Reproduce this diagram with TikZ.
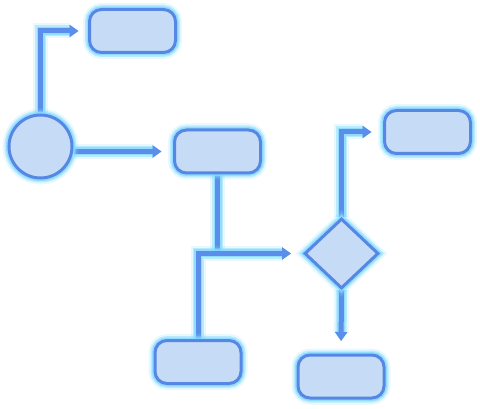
\documentclass[tikz,border=0pt]{standalone}
\usetikzlibrary{shapes.geometric,arrows.meta,backgrounds}
\definecolor{boxfill}{HTML}{C6DBF6}
\definecolor{boxline}{HTML}{5787E4}
\definecolor{flowline}{HTML}{5B8EEA}
\definecolor{glow}{HTML}{86DAFF}

\begin{document}
\begin{tikzpicture}[x=1pt,y=-1pt,
  halo/.style={preaction={draw=glow,line width=#1+10pt,opacity=.2},
               preaction={draw=glow,line width=#1+6pt,opacity=.45},
               preaction={draw=glow,line width=#1+3pt,opacity=.8}},
  box/.style={rectangle,rounded corners=12pt,minimum width=86pt,minimum height=43pt,
              inner sep=0pt,draw=boxline,fill=boxfill,line width=3pt,halo=3pt},
  start/.style={circle,minimum size=63pt,inner sep=0pt,
                draw=boxline,fill=boxfill,line width=3pt,halo=3pt},
  decision/.style={diamond,minimum width=74pt,minimum height=70pt,inner sep=0pt,
                   draw=boxline,fill=boxfill,line width=3pt,halo=3pt},
  flow/.style={draw=flowline,line width=5pt,-{Triangle[length=9pt,width=12pt]},halo=5pt}]
\useasboundingbox (0,0) rectangle (480,409);

% shapes
\node[start] (s) at (40.5,146.5) {};
\node[box] (t) at (132.5,31) {};
\node[box] (m) at (217.5,151.5) {};
\node[decision] (d) at (341.5,253.5) {};
\node[box] (r) at (427.5,132) {};
\node[box] (bl) at (198,362) {};
\node[box] (br) at (341,376.5) {};

% connectors
\begin{scope}[on background layer]
\draw[flow,shorten >=9.5pt] (s.north) |- (t.west);
\draw[flow,shorten >=11.5pt] (s.east |- m) -- (m.west);
\draw[flow,-] (m.south) -- (m.south |- d.west);
\draw[flow,shorten >=12pt] (bl.north) |- (d.west);
\draw[flow,shorten >=11.5pt] (d.north) |- (r.west);
\draw[flow,shorten >=12.5pt] (d.south) -- (br.north);
\end{scope}
\end{tikzpicture}
\end{document}
